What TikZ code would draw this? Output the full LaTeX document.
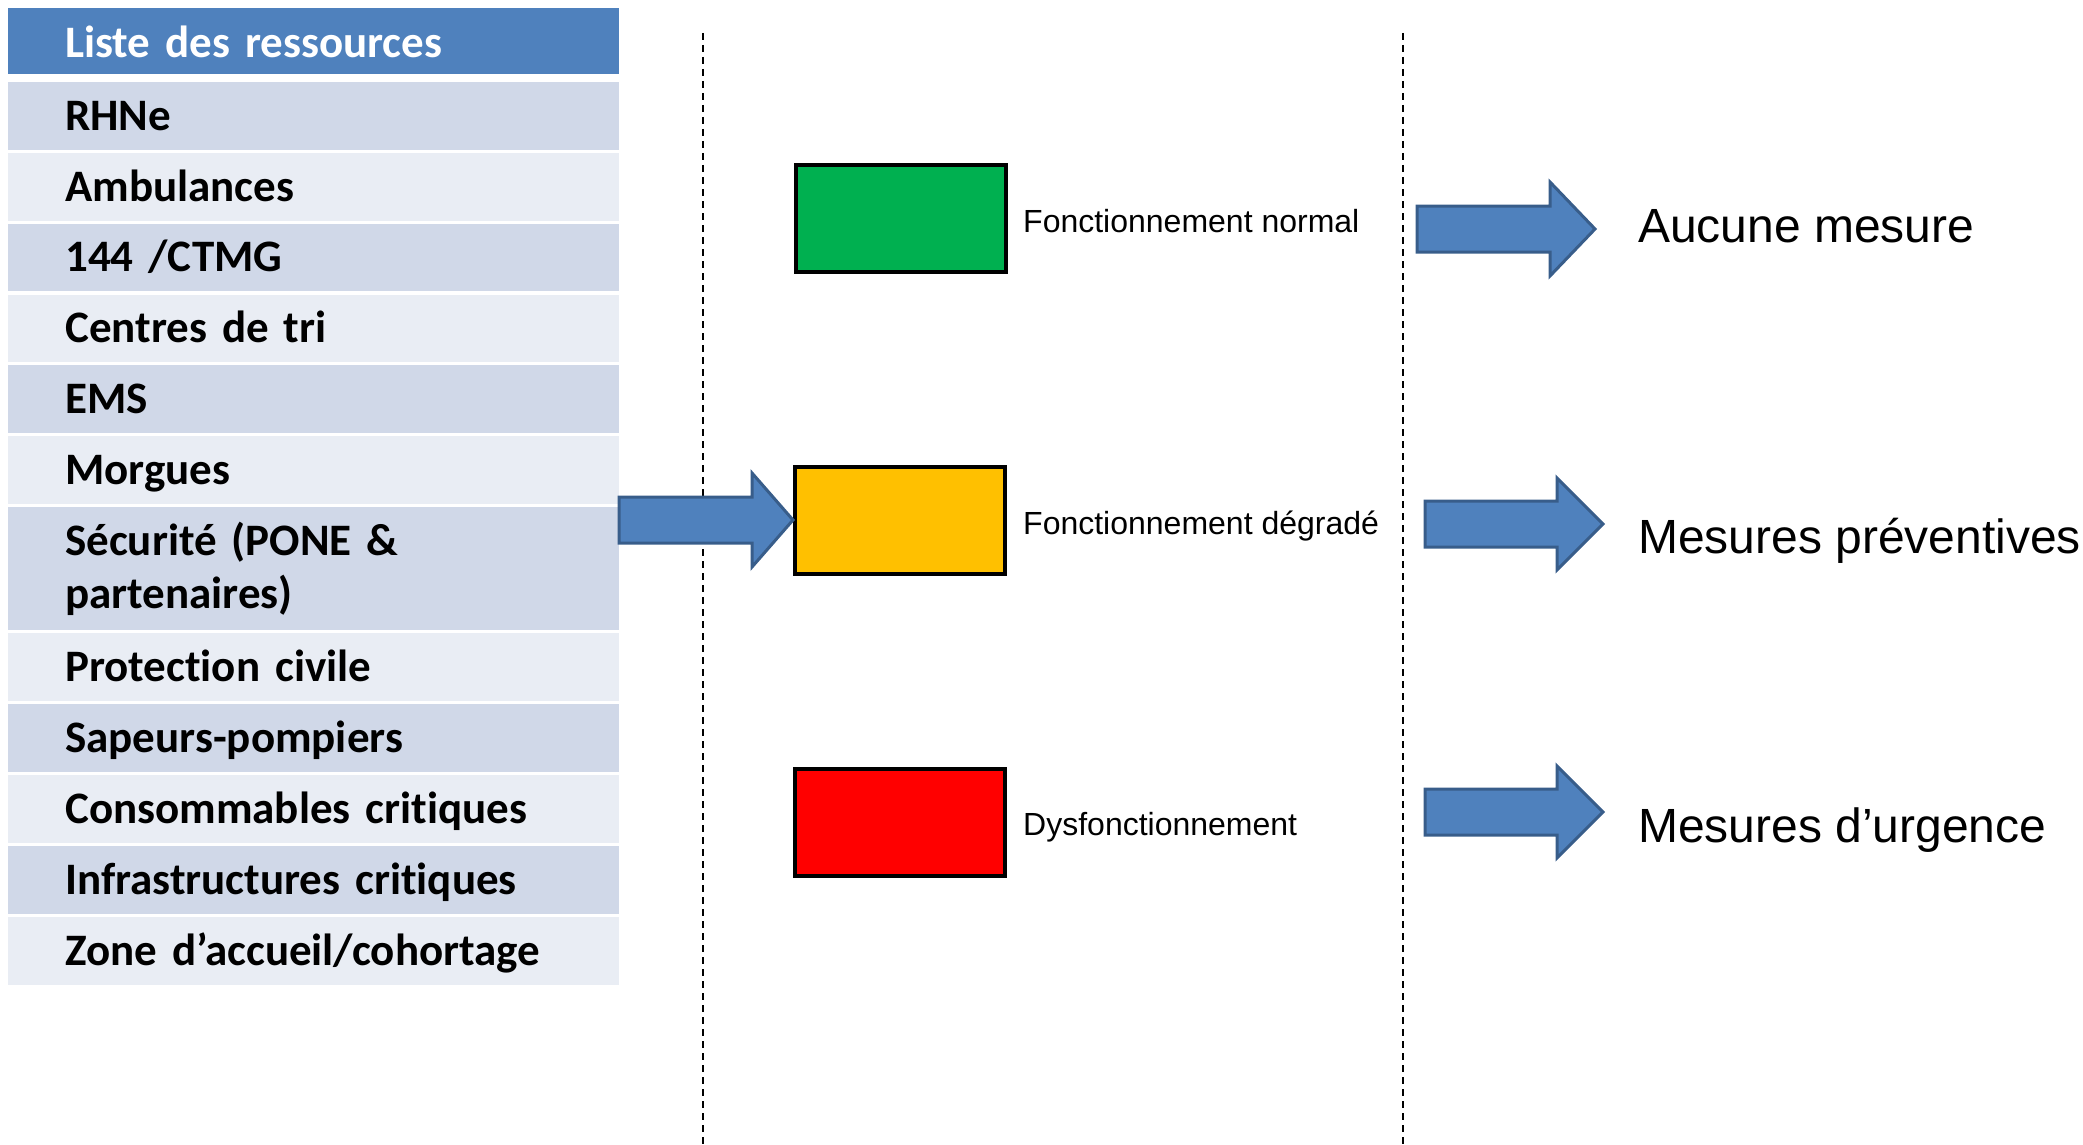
\documentclass[tikz,border=0pt]{standalone}
\usepackage{fontspec}
\setmainfont{Carlito}[Ligatures=NoCommon]
\newfontfamily\arialf{Liberation Sans}
\newcommand\cellfnt{\fontsize{45}{53}\selectfont\bfseries\spaceskip=7pt\relax}
\definecolor{hdblue}{HTML}{4F81BD}
\definecolor{rowdark}{HTML}{D0D8E8}
\definecolor{rowlight}{HTML}{E9EDF4}
\definecolor{arrborder}{HTML}{385D8A}
\definecolor{okgreen}{HTML}{00B050}
\definecolor{warnyellow}{HTML}{FFC000}
\definecolor{alertred}{HTML}{FF0000}
\begin{document}
\begin{tikzpicture}[x=1pt,y=-1pt,
  cellbase/.style={anchor=north west,minimum width=611pt,text width=497pt,inner xsep=57pt,inner ysep=0pt,align=left,
    font=\cellfnt,text height=48pt,text depth=19.5pt},
  hdcell/.style={cellbase,fill=hdblue,text=white,text height=49pt,text depth=17pt},
  dkcell/.style={cellbase,fill=rowdark},
  ltcell/.style={cellbase,fill=rowlight},
  statebox/.style={draw=black,line width=4pt,anchor=north west,minimum width=210pt,minimum height=107pt,inner sep=0pt},
  statelbl/.style={anchor=base west,inner sep=0pt,font=\arialf\fontsize{32}{38}\selectfont},
  mesure/.style={anchor=base west,inner sep=0pt,font=\arialf\fontsize{48}{56}\selectfont},
  bigarrow/.style={fill=hdblue,draw=arrborder,line width=3pt,line join=miter},
  sepline/.style={draw=black,line width=1.6pt,dash pattern=on 7pt off 5pt}
]
\useasboundingbox (0,0) rectangle (2083,1145);

% table
\node[hdcell] (hd) at (8,8) {Liste des ressources};
\node[dkcell] (r1) at (8,82) {RHNe};
\node[ltcell] (r2) at (8,152.8) {Ambulances};
\node[dkcell] (r3) at (8,223.6) {144 /CTMG};
\node[ltcell] (r4) at (8,294.4) {Centres de tri};
\node[dkcell] (r5) at (8,365.2) {EMS};
\node[ltcell] (r6) at (8,436) {Morgues};
\node[dkcell,text depth=75.4pt] (r7) at (8,506.8) {Sécurité (PONE \&\\partenaires)};
\node[ltcell,text depth=20pt] (r8) at (8,633) {Protection civile};
\node[dkcell,text depth=20pt] (r9) at (8,704) {Sapeurs-pompiers};
\node[ltcell,text depth=20pt] (r10) at (8,775) {Consommables critiques};
\node[dkcell,text depth=20pt] (r11) at (8,846) {Infrastructures critiques};
\node[ltcell,text depth=20pt] (r12) at (8,917) {Zone d’accueil/cohortage};

% separators
\coordinate (s1a) at (703,33);
\coordinate (s1b) at (703,1145);
\coordinate (s2a) at (1403,33);
\coordinate (s2b) at (1403,1145);
\draw[sepline] (s1a) -- (s1b);
\draw[sepline] (s2a) -- (s2b);

% state boxes
\node[statebox,fill=okgreen] (bg) at (794,163) {};
\node[statebox,fill=warnyellow] (by) at (793,465) {};
\node[statebox,fill=alertred] (br) at (793,767) {};

\node[statelbl] (lg) at (1023,232) {Fonctionnement normal};
\node[statelbl] (ly) at (1023,534) {Fonctionnement dégradé};
\node[statelbl] (lr) at (1023,835) {Dysfonctionnement};

% left arrow (table -> yellow)
\draw[bigarrow] (619,497) -- (752,497) -- (752,473) -- (793,520) -- (752,567) -- (752,543) -- (619,543) -- cycle;

% right arrows
\draw[bigarrow] (1417,206) -- (1550,206) -- (1550,182) -- (1595,229) -- (1550,276) -- (1550,252) -- (1417,252) -- cycle;
\draw[bigarrow] (1425,501) -- (1557,501) -- (1557,478) -- (1603,524) -- (1557,570) -- (1557,547) -- (1425,547) -- cycle;
\draw[bigarrow] (1425,789) -- (1557,789) -- (1557,766) -- (1603,812) -- (1557,858) -- (1557,835) -- (1425,835) -- cycle;

\node[mesure] (m1) at (1638,242) {Aucune mesure};
\node[mesure] (m2) at (1638,553) {Mesures préventives};
\node[mesure] (m3) at (1638,842) {Mesures d’urgence};
\end{tikzpicture}
\end{document}
